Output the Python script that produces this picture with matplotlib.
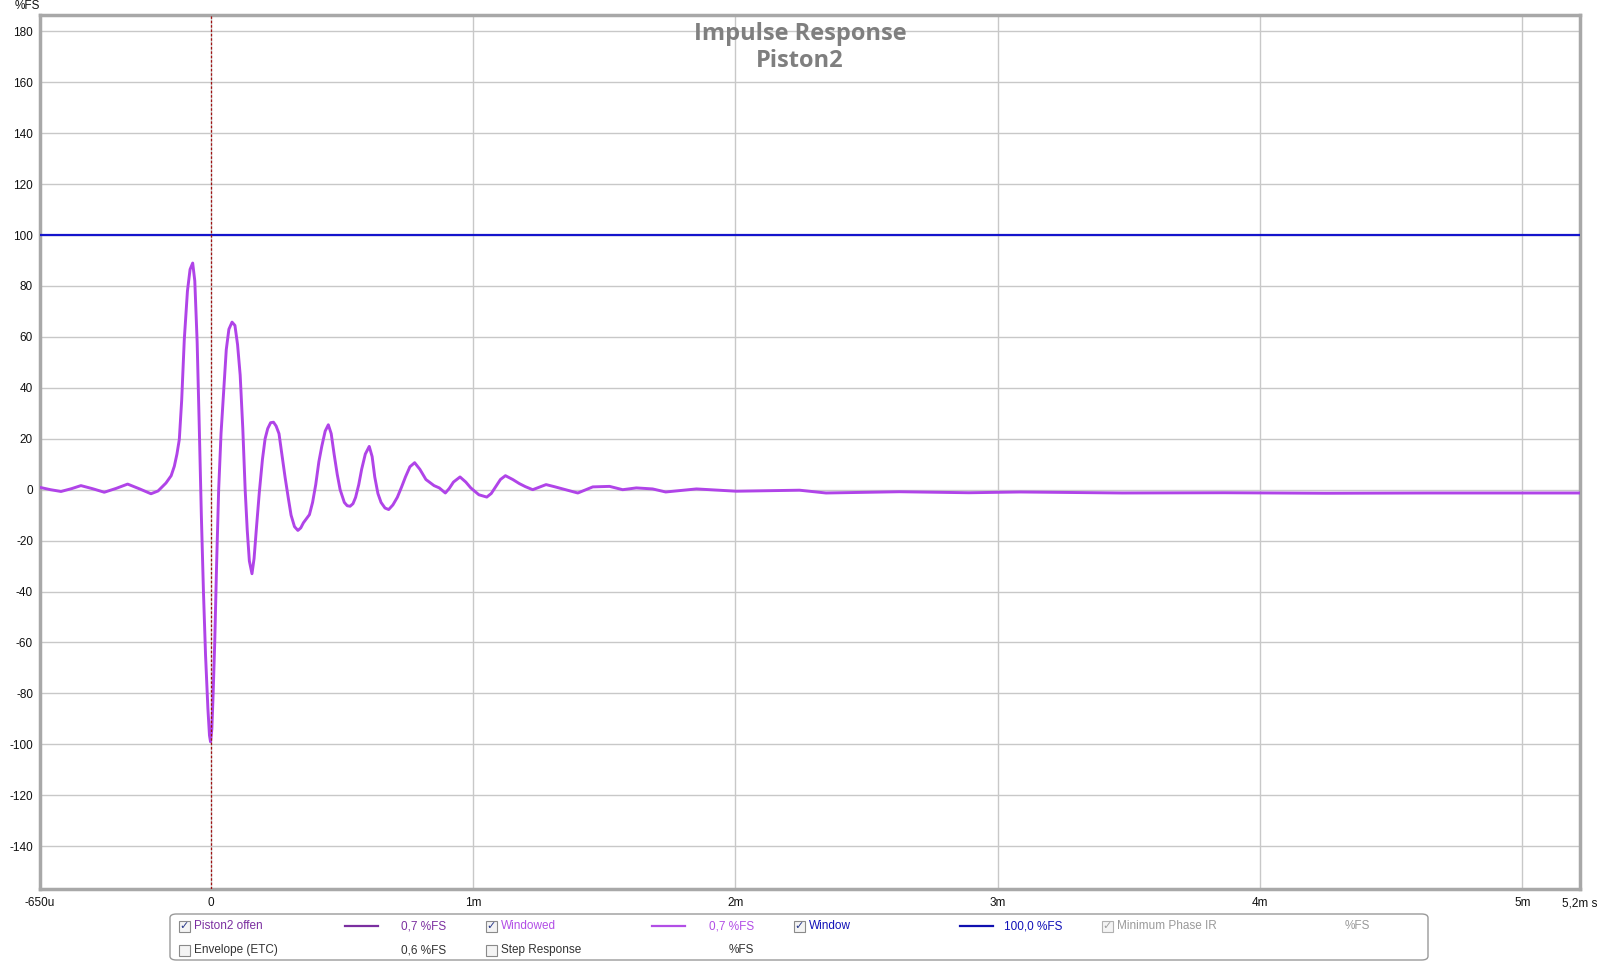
import matplotlib
matplotlib.use('Agg')
import matplotlib.pyplot as plt
from matplotlib.patches import FancyBboxPatch, Rectangle

# Impulse response, time in ms, amplitude in %FS
t_ms = [-0.65, -0.61, -0.57, -0.53, -0.494, -0.45, -0.405, -0.36, -0.316, -0.27,
        -0.227, -0.20, -0.170, -0.150, -0.138, -0.128, -0.119, -0.110, -0.100, -0.088,
        -0.078, -0.068, -0.060, -0.051, -0.043, -0.035, -0.027, -0.019, -0.010, -0.004,
        0.0, 0.005, 0.010, 0.016, 0.023, 0.031, 0.040, 0.051, 0.060, 0.070,
        0.082, 0.093, 0.103, 0.113, 0.123, 0.132, 0.140, 0.148, 0.158, 0.166,
        0.175, 0.186, 0.198, 0.208, 0.218, 0.229, 0.240, 0.250, 0.261, 0.272,
        0.284, 0.296, 0.307, 0.320, 0.333, 0.344, 0.354, 0.365, 0.377, 0.389,
        0.401, 0.413, 0.424, 0.437, 0.449, 0.460, 0.471, 0.483, 0.494, 0.510,
        0.521, 0.532, 0.543, 0.553, 0.565, 0.576, 0.590, 0.605, 0.616, 0.626,
        0.638, 0.650, 0.665, 0.679, 0.695, 0.712, 0.728, 0.743, 0.760, 0.778,
        0.798, 0.821, 0.852, 0.872, 0.895, 0.910, 0.926, 0.951, 0.973, 0.992,
        1.023, 1.053, 1.070, 1.086, 1.105, 1.124, 1.152, 1.177, 1.200, 1.228,
        1.279, 1.310, 1.342, 1.400, 1.457, 1.521, 1.571, 1.623, 1.685, 1.735,
        1.852, 2.004, 2.245, 2.346, 2.626, 2.891, 3.086, 3.475, 3.864, 4.253,
        4.642, 5.22]
windowed = [0.9, 0.0, -0.7, 0.4, 1.6, 0.4, -1.0, 0.5, 2.2, 0.3,
            -1.6, -0.5, 2.6, 5.5, 9.2, 14.0, 19.7, 35.0, 59.0, 78.0,
            86.5, 89.0, 82.0, 58.0, 25.0, -10.0, -40.0, -65.0, -86.0, -96.5,
            -99.0, -94.0, -80.0, -60.0, -30.0, 0.0, 22.0, 40.0, 55.0, 63.0,
            65.8, 64.5, 57.0, 45.0, 24.0, 0.0, -16.0, -28.0, -33.0, -27.0,
            -15.0, -1.0, 12.0, 20.0, 24.0, 26.3, 26.5, 25.0, 22.0, 14.0,
            5.0, -3.0, -10.0, -14.5, -16.0, -15.0, -13.0, -11.5, -9.8, -5.0,
            2.0, 11.0, 17.0, 23.0, 25.5, 22.0, 14.0, 6.0, 0.0, -5.0,
            -6.3, -6.5, -5.5, -3.0, 2.0, 8.0, 14.0, 17.0, 13.0, 5.0,
            -1.5, -5.0, -7.2, -7.8, -6.0, -3.0, 1.0, 5.0, 9.0, 10.6,
            8.0, 4.0, 1.6, 0.7, -1.3, 0.5, 3.0, 5.0, 3.0, 0.7,
            -2.0, -2.9, -1.5, 1.0, 4.0, 5.5, 4.0, 2.4, 1.2, 0.0,
            2.0, 1.2, 0.3, -1.3, 1.1, 1.3, 0.0, 0.7, 0.3, -0.9,
            0.3, -0.6, -0.2, -1.3, -0.8, -1.2, -0.9, -1.3, -1.2, -1.4,
            -1.3, -1.3]
window_level = 100.0

y_ticks = list(range(-140, 181, 20))
x_ticks = [-0.65, 0, 1, 2, 3, 4, 5, 5.22]
x_labels = ['-650u', '0', '1m', '2m', '3m', '4m', '5m', '5,2m s']

# legend rows: (label, value text, colour, checked, line colour)
legend_row1 = [('Piston2 offen', '0,7 %FS', '#7b2fa0', True, '#7b2fa0'),
               ('Windowed', '0,7 %FS', '#b24ee6', True, '#b24ee6'),
               ('Window', '100,0 %FS', '#1010b8', True, '#1010b0'),
               ('Minimum Phase IR', '%FS', '#9a9a9a', 'grey', None)]
legend_row2 = [('Envelope (ETC)', '0,6 %FS', '#333333', False, None),
               ('Step Response', '%FS', '#333333', False, None)]

plt.rcParams['font.family'] = ['Liberation Sans', 'DejaVu Sans']

W, H = 1600, 963
fig = plt.figure(figsize=(16, 9.63), dpi=100)
ax = fig.add_axes([40 / W, 1 - 889 / H, 1540 / W, 874 / H])

ax.plot(t_ms, windowed, color='#b044e8', linewidth=2.1, zorder=4,
        solid_joinstyle='round', solid_capstyle='round')
ax.axhline(window_level, color='#1414cc', linewidth=1.6, zorder=3)
ax.axvline(0, color='#a01010', linewidth=0.9, linestyle=(0, (2, 1.5)), zorder=5)

ax.set_xlim(-0.65, 5.22)
ax.set_ylim(-156.8, 186.4)
ax.set_yticks(y_ticks)
ax.set_yticklabels([str(v) for v in y_ticks])
ax.set_xticks(x_ticks)
ax.set_xticklabels(x_labels)
ax.tick_params(axis='both', length=0, labelsize=8.5, colors='#111111')
ax.tick_params(axis='y', pad=5)
ax.tick_params(axis='x', pad=6)
ax.grid(True, color='#c8c8c8', linewidth=1.0, zorder=0)
ax.set_axisbelow(True)
for s in ax.spines.values():
    s.set_color('#a8a8a8')
    s.set_linewidth(2.5)

fig.text(27 / W, 1 - 6 / H, '%FS', fontsize=8.5, ha='center', va='center', color='#111111')
fig.text(800 / W, 1 - 22 / H, 'Impulse Response\nPiston2', ha='center', va='top',
         fontsize=17, fontweight='bold', color='#7f7f7f', family=['Open Sans', 'DejaVu Sans'],
         linespacing=1.15)

# legend panel
box = FancyBboxPatch((170 / W, 1 - 960 / H), 1258 / W, 46 / H,
                     boxstyle='round,pad=0,rounding_size=0.004', transform=fig.transFigure,
                     facecolor='white', edgecolor='#9a9a9a', linewidth=1.0)
fig.patches.append(box)

col_x = [184, 491, 799, 1107]     # checkbox x positions (px)
line_x = [345, 652, 960]          # line sample start
val_x = [446, 754, 1062, 1370]    # value text right edge


def checkbox(x, y, state):
    edge = '#8a8a8a' if state != 'grey' else '#b0b0b0'
    fig.patches.append(Rectangle(((x - 5.5) / W, 1 - (y + 5.5) / H), 11 / W, 11 / H,
                                 transform=fig.transFigure, facecolor='#f4f4f4',
                                 edgecolor=edge, linewidth=0.8))
    if state:
        c = '#2a3a8a' if state is True else '#a0a0a0'
        fig.text(x / W, 1 - y / H, '\u2713', fontsize=8, ha='center', va='center', color=c,
                 family=['DejaVu Sans'])


for row_y, row in [(926, legend_row1), (950, legend_row2)]:
    for i, (lab, val, col, chk, lcol) in enumerate(row):
        checkbox(col_x[i], row_y, chk)
        fig.text((col_x[i] + 10) / W, 1 - row_y / H, lab, fontsize=8.5, color=col,
                 ha='left', va='center')
        fig.text(val_x[i] / W, 1 - row_y / H, val, fontsize=8.5, color=col,
                 ha='right', va='center')
        if lcol:
            fig.add_artist(plt.Line2D([line_x[i] / W, (line_x[i] + 33) / W],
                                      [1 - row_y / H, 1 - row_y / H], color=lcol,
                                      linewidth=1.6, transform=fig.transFigure))

fig.savefig('out.png', dpi=100)
